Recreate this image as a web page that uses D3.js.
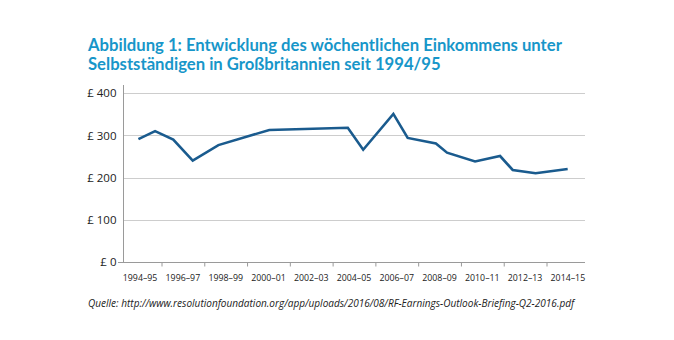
<!DOCTYPE html>
<html>
<head>
<meta charset="utf-8">
<script src="https://cdn.jsdelivr.net/npm/d3@7/dist/d3.min.js"></script>
<style>
  body { margin: 0; background: #fff; }
  svg { display: block; }
  .grid line { stroke: #cdcdcd; stroke-width: 1; }
  .axis path, .axis line { stroke: #9a9a9a; }
</style>
</head>
<body>
<svg class="chart" width="674" height="340"></svg>
<script>
"use strict";

// Titel und Quelle
var titleLines = [
  'Abbildung 1: Entwicklung des wöchentlichen Einkommens unter',
  'Selbstständigen in Großbritannien seit 1994/95'
];
var source = 'Quelle: http://www.resolutionfoundation.org/app/uploads/2016/08/RF-Earnings-Outlook-Briefing-Q2-2016.pdf';

// Zeitpunkte (Beginn des Haushaltsjahres, in Jahren) und Einkommen in £
var zeit = [1993.92, 1994.70, 1995.55, 1996.46, 1997.66, 2000.04, 2003.71, 2004.43,
  2005.84, 2006.51, 2007.83, 2008.35, 2009.66, 2010.83, 2011.42, 2012.49, 2013.99];
var einkommen = [291, 310, 290, 240, 277, 313, 318, 266,
  351, 294, 281, 259, 238, 251, 218, 210, 220];

// Achsenbeschriftungen
var xLabelYears = [1994, 1996, 1998, 2000, 2002, 2004, 2006, 2008, 2010, 2012, 2014];
var xTickYears = [1995, 1997, 1999, 2001, 2003, 2005, 2007, 2009, 2011, 2013];
var yTicks = [0, 100, 200, 300, 400];

var plotLeft = 123, plotRight = 585, plotTop = 93.3, plotBottom = 261.7;

var svg = d3.select('.chart');

var x = d3.scaleLinear().domain([1993.2, 2014.8]).range([plotLeft, plotRight]);
var y = d3.scaleLinear().domain([0, 400]).range([plotBottom, plotTop]);

// Titel
var title = svg.append('g');
titleLines.forEach(function (t, i) {
  title.append('text')
    .attr('x', 88)
    .attr('y', 51 + i * 19)
    .attr('fill', '#1796c9')
    .style('font-family', 'Lato, sans-serif')
    .style('font-weight', 700)
    .style('font-size', '16px')
    .text(t);
});
// Breite an Vorlage anpassen
var t0 = title.select('text').node();
var fs = 16 * 474 / t0.getComputedTextLength();
title.selectAll('text').style('font-size', fs + 'px');

// Gitterlinien
svg.append('g')
  .attr('class', 'grid')
  .selectAll('line')
  .data(yTicks.filter(function (d) { return d > 0; }))
  .enter()
  .append('line')
    .attr('x1', plotLeft)
    .attr('x2', plotRight)
    .attr('y1', function (d) { return Math.round(y(d)) + 0.5; })
    .attr('y2', function (d) { return Math.round(y(d)) + 0.5; });

// y-Achse
var yAxis = svg.append('g')
  .attr('class', 'axis')
  .attr('transform', 'translate(' + (Math.round(plotLeft) + 0.5) + ',0)')
  .call(d3.axisLeft(y).tickValues(yTicks).tickSize(0).tickPadding(7)
    .tickFormat(function (d) { return '£ ' + d; }));
yAxis.select('.domain').attr('d', 'M0,85V' + (Math.round(plotBottom) + 0.5));
yAxis.selectAll('text')
  .attr('fill', '#222')
  .style('font-family', '"Open Sans", sans-serif')
  .style('font-size', '11.5px');

// x-Achse: Striche an den Grenzen, Beschriftung mittig
var xAxis = svg.append('g')
  .attr('class', 'axis')
  .attr('transform', 'translate(0,' + (Math.round(plotBottom) + 0.5) + ')');
xAxis.call(d3.axisBottom(x).tickValues(xTickYears).tickSize(4).tickFormat(''))
  .select('.domain').attr('d', 'M' + (plotLeft - 5) + ',0H' + plotRight);
xAxis.selectAll('.lbl')
  .data(xLabelYears)
  .enter()
  .append('text')
    .attr('class', 'lbl')
    .attr('x', function (d) { return x(d); })
    .attr('y', 18)
    .attr('text-anchor', 'middle')
    .attr('fill', '#222')
    .style('font-family', '"Open Sans", sans-serif')
    .style('font-size', '8.8px')
    .text(function (d) { return d + '–' + String(d + 1).slice(2); });

// Linie
var points = zeit.map(function (t, i) { return [t, einkommen[i]]; });
svg.append('path')
  .datum(points)
  .attr('fill', 'none')
  .attr('stroke', '#1a5b8e')
  .attr('stroke-width', 2.6)
  .attr('stroke-linejoin', 'miter')
  .attr('d', d3.line()
    .x(function (d) { return x(d[0]); })
    .y(function (d) { return y(d[1]); }));

// Quelle
var q = svg.append('text')
  .attr('x', 88)
  .attr('y', 307)
  .attr('fill', '#222')
  .style('font-family', '"Open Sans", sans-serif')
  .style('font-style', 'italic')
  .style('font-size', '10px')
  .text(source);
var qs = 10 * 487 / q.node().getComputedTextLength();
q.style('font-size', qs + 'px');
</script>
</body>
</html>
